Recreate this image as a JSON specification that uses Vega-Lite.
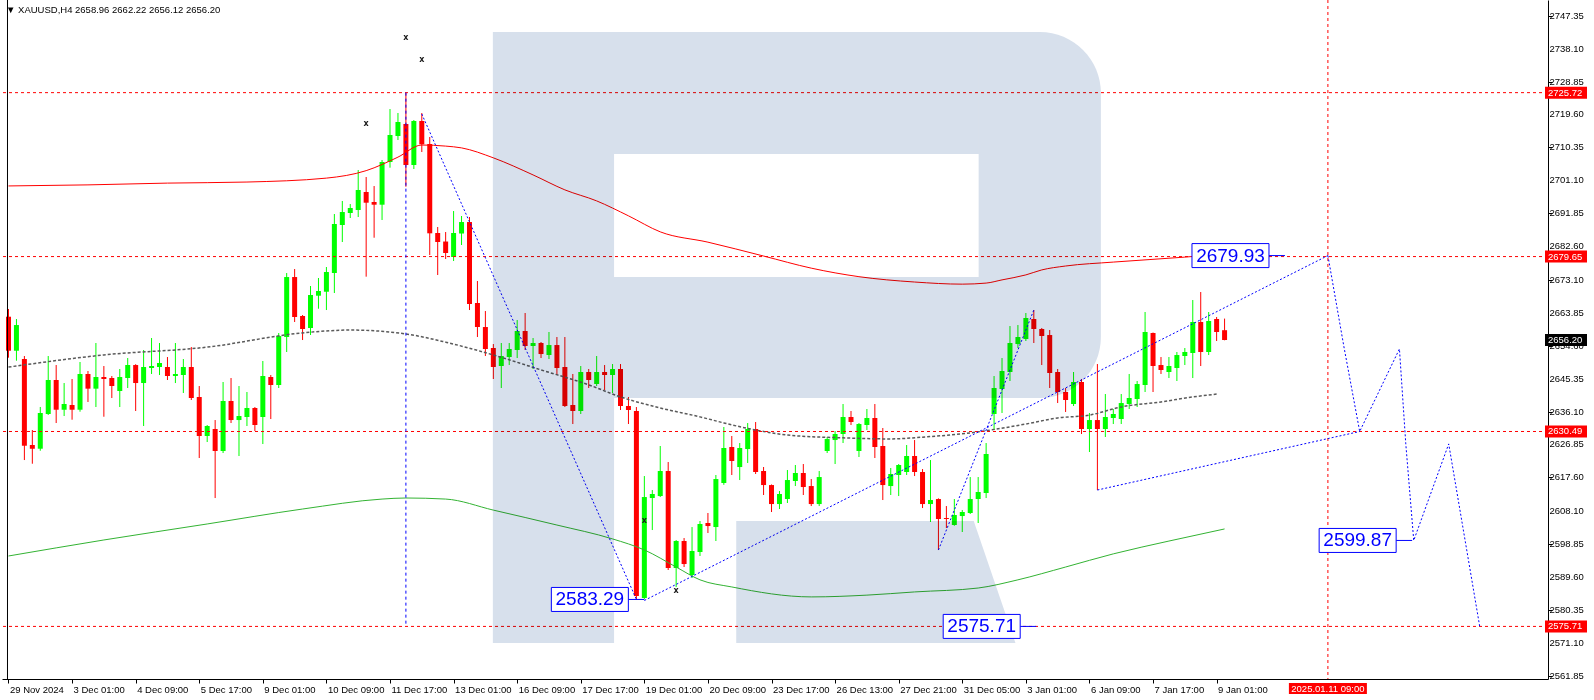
{
"$schema":"https://vega.github.io/schema/vega-lite/v6.json",
"width":1546,"height":679,"autosize":"none",
"padding":{"left":2,"top":0,"right":46,"bottom":21},
"background":"white",
"config":{"view":{"stroke":null},"font":"Liberation Sans","axis":{"labelOverlap":false,"labelFlush":false,"labelBound":false,"grid":false}},
"title":{"text":"▼ XAUUSD,H4  2658.96 2662.22 2656.12 2656.20","anchor":"start","frame":"group","offset":-15,"font":"Liberation Sans","fontSize":9.5,"fontWeight":"normal","color":"#000000","dx":4},
"datasets":{
"candles":[
{"i":0,"o":2662.75,"h":2664.91,"l":2651.23,"c":2653.19},
{"i":1,"o":2653.19,"h":2662.10,"l":2650.38,"c":2660.41},
{"i":2,"o":2650.86,"h":2651.70,"l":2622.47,"c":2626.49},
{"i":3,"o":2626.69,"h":2630.91,"l":2621.43,"c":2625.65},
{"i":4,"o":2625.65,"h":2637.38,"l":2625.08,"c":2635.69},
{"i":5,"o":2635.41,"h":2651.70,"l":2635.13,"c":2644.96},
{"i":6,"o":2644.96,"h":2649.17,"l":2632.87,"c":2636.61},
{"i":7,"o":2636.61,"h":2644.11,"l":2634.84,"c":2638.21},
{"i":8,"o":2637.93,"h":2645.24,"l":2633.80,"c":2636.61},
{"i":9,"o":2636.61,"h":2650.02,"l":2636.05,"c":2646.65},
{"i":10,"o":2646.65,"h":2647.49,"l":2638.78,"c":2642.53},
{"i":11,"o":2642.53,"h":2655.36,"l":2637.37,"c":2645.80},
{"i":12,"o":2645.80,"h":2648.89,"l":2634.64,"c":2645.24},
{"i":13,"o":2645.52,"h":2646.08,"l":2639.90,"c":2643.27},
{"i":14,"o":2641.87,"h":2648.05,"l":2637.37,"c":2645.80},
{"i":15,"o":2645.52,"h":2651.14,"l":2642.71,"c":2649.17},
{"i":16,"o":2649.17,"h":2649.40,"l":2636.25,"c":2644.11},
{"i":17,"o":2644.11,"h":2653.39,"l":2632.03,"c":2648.61},
{"i":18,"o":2648.33,"h":2656.76,"l":2646.65,"c":2648.89},
{"i":19,"o":2648.61,"h":2655.36,"l":2646.36,"c":2649.74},
{"i":20,"o":2648.61,"h":2651.42,"l":2644.96,"c":2646.08},
{"i":21,"o":2646.08,"h":2655.36,"l":2644.11,"c":2646.65},
{"i":22,"o":2646.36,"h":2650.86,"l":2641.31,"c":2648.61},
{"i":23,"o":2648.61,"h":2654.23,"l":2639.34,"c":2639.90},
{"i":24,"o":2640.18,"h":2643.27,"l":2623.04,"c":2629.22},
{"i":25,"o":2629.22,"h":2632.31,"l":2627.53,"c":2632.03},
{"i":26,"o":2631.19,"h":2633.71,"l":2611.79,"c":2625.00},
{"i":27,"o":2625.00,"h":2644.40,"l":2624.44,"c":2639.06},
{"i":28,"o":2639.06,"h":2645.52,"l":2632.87,"c":2633.71},
{"i":29,"o":2633.71,"h":2643.27,"l":2623.60,"c":2634.84},
{"i":30,"o":2634.56,"h":2641.59,"l":2632.03,"c":2637.09},
{"i":31,"o":2637.09,"h":2637.37,"l":2630.62,"c":2632.31},
{"i":32,"o":2634.56,"h":2650.30,"l":2626.97,"c":2646.08},
{"i":33,"o":2645.80,"h":2646.36,"l":2633.99,"c":2643.55},
{"i":34,"o":2643.55,"h":2658.17,"l":2642.71,"c":2657.32},
{"i":35,"o":2657.04,"h":2675.03,"l":2652.83,"c":2673.90},
{"i":36,"o":2673.90,"h":2676.15,"l":2661.26,"c":2662.66},
{"i":37,"o":2662.95,"h":2663.23,"l":2656.20,"c":2659.29},
{"i":38,"o":2659.57,"h":2671.38,"l":2657.61,"c":2668.85},
{"i":39,"o":2668.65,"h":2673.63,"l":2665.00,"c":2669.97},
{"i":40,"o":2669.77,"h":2676.72,"l":2664.63,"c":2675.31},
{"i":41,"o":2675.03,"h":2691.61,"l":2669.41,"c":2688.80},
{"i":42,"o":2688.52,"h":2695.27,"l":2683.74,"c":2692.17},
{"i":43,"o":2691.89,"h":2694.42,"l":2690.49,"c":2693.30},
{"i":44,"o":2692.74,"h":2703.98,"l":2690.77,"c":2698.36},
{"i":45,"o":2697.80,"h":2702.01,"l":2674.00,"c":2694.79},
{"i":46,"o":2694.99,"h":2699.48,"l":2684.95,"c":2694.23},
{"i":47,"o":2694.23,"h":2706.79,"l":2689.93,"c":2706.23},
{"i":48,"o":2706.23,"h":2721.12,"l":2704.63,"c":2713.82},
{"i":49,"o":2713.54,"h":2720.00,"l":2712.41,"c":2717.47},
{"i":50,"o":2716.91,"h":2725.72,"l":2699.29,"c":2705.39},
{"i":51,"o":2705.39,"h":2718.03,"l":2704.26,"c":2717.75},
{"i":52,"o":2717.75,"h":2720.00,"l":2709.04,"c":2711.20},
{"i":53,"o":2711.29,"h":2713.26,"l":2680.09,"c":2686.19},
{"i":54,"o":2686.27,"h":2687.96,"l":2674.47,"c":2683.74},
{"i":55,"o":2683.88,"h":2686.55,"l":2678.97,"c":2680.65},
{"i":56,"o":2679.53,"h":2692.45,"l":2678.40,"c":2686.27},
{"i":57,"o":2686.13,"h":2691.05,"l":2682.90,"c":2689.36},
{"i":58,"o":2689.36,"h":2690.77,"l":2664.63,"c":2666.32},
{"i":59,"o":2666.60,"h":2672.78,"l":2657.04,"c":2659.85},
{"i":60,"o":2659.85,"h":2664.35,"l":2651.70,"c":2653.67},
{"i":61,"o":2653.95,"h":2655.07,"l":2645.24,"c":2648.61},
{"i":62,"o":2648.89,"h":2655.36,"l":2642.71,"c":2651.70},
{"i":63,"o":2651.42,"h":2655.36,"l":2649.17,"c":2653.67},
{"i":64,"o":2653.39,"h":2661.82,"l":2651.14,"c":2658.73},
{"i":65,"o":2658.73,"h":2663.79,"l":2653.39,"c":2654.51},
{"i":66,"o":2654.51,"h":2656.76,"l":2648.05,"c":2655.36},
{"i":67,"o":2655.36,"h":2655.64,"l":2651.14,"c":2652.26},
{"i":68,"o":2651.98,"h":2658.45,"l":2650.86,"c":2654.79},
{"i":69,"o":2654.79,"h":2657.04,"l":2646.36,"c":2648.33},
{"i":70,"o":2648.61,"h":2657.04,"l":2637.37,"c":2637.65},
{"i":71,"o":2637.93,"h":2646.65,"l":2632.59,"c":2636.25},
{"i":72,"o":2636.25,"h":2648.89,"l":2635.41,"c":2647.21},
{"i":73,"o":2647.21,"h":2648.05,"l":2642.71,"c":2644.96},
{"i":74,"o":2643.83,"h":2651.70,"l":2643.27,"c":2647.21},
{"i":75,"o":2647.21,"h":2649.17,"l":2642.15,"c":2646.36},
{"i":76,"o":2646.36,"h":2649.45,"l":2641.31,"c":2648.05},
{"i":77,"o":2648.05,"h":2649.45,"l":2636.53,"c":2637.65},
{"i":78,"o":2637.65,"h":2640.18,"l":2632.59,"c":2636.53},
{"i":79,"o":2636.25,"h":2637.37,"l":2583.29,"c":2584.25},
{"i":80,"o":2583.69,"h":2617.97,"l":2583.41,"c":2612.07},
{"i":81,"o":2611.79,"h":2614.04,"l":2602.80,"c":2612.92},
{"i":82,"o":2612.35,"h":2626.41,"l":2612.07,"c":2619.38},
{"i":83,"o":2619.38,"h":2621.91,"l":2591.56,"c":2592.12},
{"i":84,"o":2592.12,"h":2599.99,"l":2586.78,"c":2599.71},
{"i":85,"o":2599.71,"h":2600.55,"l":2592.40,"c":2593.24},
{"i":86,"o":2590.15,"h":2603.64,"l":2589.31,"c":2596.90},
{"i":87,"o":2596.62,"h":2605.33,"l":2595.49,"c":2604.49},
{"i":88,"o":2604.77,"h":2607.58,"l":2601.96,"c":2603.92},
{"i":89,"o":2603.64,"h":2618.26,"l":2599.71,"c":2617.13},
{"i":90,"o":2616.01,"h":2631.75,"l":2615.50,"c":2625.85},
{"i":91,"o":2626.13,"h":2629.22,"l":2618.26,"c":2622.19},
{"i":92,"o":2620.50,"h":2627.25,"l":2616.85,"c":2625.85},
{"i":93,"o":2625.56,"h":2632.87,"l":2621.63,"c":2631.19},
{"i":94,"o":2631.19,"h":2633.15,"l":2618.54,"c":2619.10},
{"i":95,"o":2619.38,"h":2620.51,"l":2612.64,"c":2615.44},
{"i":96,"o":2615.44,"h":2615.60,"l":2607.86,"c":2610.10},
{"i":97,"o":2610.10,"h":2613.76,"l":2608.70,"c":2612.92},
{"i":98,"o":2611.51,"h":2619.66,"l":2610.39,"c":2616.85},
{"i":99,"o":2616.57,"h":2621.07,"l":2615.16,"c":2618.82},
{"i":100,"o":2618.82,"h":2621.35,"l":2612.64,"c":2614.88},
{"i":101,"o":2615.16,"h":2617.13,"l":2609.54,"c":2610.10},
{"i":102,"o":2610.10,"h":2619.38,"l":2609.54,"c":2617.69},
{"i":103,"o":2625.00,"h":2628.94,"l":2624.44,"c":2628.37},
{"i":104,"o":2628.09,"h":2630.62,"l":2621.35,"c":2629.78},
{"i":105,"o":2629.78,"h":2638.21,"l":2627.25,"c":2634.56},
{"i":106,"o":2634.56,"h":2636.25,"l":2632.31,"c":2633.15},
{"i":107,"o":2625.00,"h":2632.87,"l":2623.32,"c":2632.59},
{"i":108,"o":2632.31,"h":2636.81,"l":2630.90,"c":2634.28},
{"i":109,"o":2634.28,"h":2638.21,"l":2623.04,"c":2626.13},
{"i":110,"o":2626.41,"h":2631.47,"l":2611.23,"c":2615.44},
{"i":111,"o":2615.16,"h":2620.23,"l":2612.64,"c":2618.54},
{"i":112,"o":2618.26,"h":2621.35,"l":2612.35,"c":2621.07},
{"i":113,"o":2619.10,"h":2626.69,"l":2618.26,"c":2623.60},
{"i":114,"o":2623.60,"h":2628.09,"l":2617.97,"c":2619.10},
{"i":115,"o":2619.10,"h":2619.94,"l":2608.98,"c":2610.10},
{"i":116,"o":2610.10,"h":2622.47,"l":2605.05,"c":2611.23},
{"i":117,"o":2611.51,"h":2611.70,"l":2597.18,"c":2605.89},
{"i":118,"o":2606.17,"h":2609.54,"l":2603.36,"c":2605.89},
{"i":119,"o":2604.21,"h":2611.51,"l":2604.00,"c":2607.02},
{"i":120,"o":2606.73,"h":2608.42,"l":2602.24,"c":2607.86},
{"i":121,"o":2607.58,"h":2617.69,"l":2607.30,"c":2611.51},
{"i":122,"o":2611.51,"h":2617.69,"l":2604.77,"c":2613.48},
{"i":123,"o":2613.20,"h":2627.25,"l":2611.79,"c":2624.16},
{"i":124,"o":2635.41,"h":2646.08,"l":2630.90,"c":2642.71},
{"i":125,"o":2642.43,"h":2651.14,"l":2635.69,"c":2647.49},
{"i":126,"o":2647.21,"h":2660.13,"l":2644.68,"c":2655.36},
{"i":127,"o":2655.07,"h":2660.41,"l":2653.95,"c":2657.04},
{"i":128,"o":2656.48,"h":2663.79,"l":2655.92,"c":2662.38},
{"i":129,"o":2662.10,"h":2664.63,"l":2655.36,"c":2659.29},
{"i":130,"o":2659.29,"h":2659.57,"l":2649.17,"c":2657.32},
{"i":131,"o":2657.60,"h":2659.01,"l":2642.71,"c":2646.93},
{"i":132,"o":2647.21,"h":2648.05,"l":2638.49,"c":2641.59},
{"i":133,"o":2641.59,"h":2642.71,"l":2635.97,"c":2639.34},
{"i":134,"o":2638.21,"h":2647.21,"l":2637.65,"c":2644.40},
{"i":135,"o":2644.40,"h":2645.24,"l":2629.78,"c":2631.19},
{"i":136,"o":2631.19,"h":2635.69,"l":2624.72,"c":2633.71},
{"i":137,"o":2633.71,"h":2649.45,"l":2614.04,"c":2631.19},
{"i":138,"o":2631.19,"h":2641.02,"l":2628.94,"c":2634.56},
{"i":139,"o":2634.28,"h":2636.81,"l":2632.59,"c":2635.41},
{"i":140,"o":2634.00,"h":2641.02,"l":2632.59,"c":2638.49},
{"i":141,"o":2638.21,"h":2646.65,"l":2636.81,"c":2639.90},
{"i":142,"o":2639.62,"h":2644.68,"l":2637.37,"c":2643.83},
{"i":143,"o":2643.55,"h":2664.07,"l":2641.59,"c":2658.45},
{"i":144,"o":2658.17,"h":2658.30,"l":2641.59,"c":2648.89},
{"i":145,"o":2649.17,"h":2651.42,"l":2646.65,"c":2647.77},
{"i":146,"o":2647.21,"h":2651.42,"l":2645.52,"c":2648.89},
{"i":147,"o":2648.33,"h":2652.83,"l":2644.68,"c":2651.98},
{"i":148,"o":2651.70,"h":2653.95,"l":2649.17,"c":2652.83},
{"i":149,"o":2652.55,"h":2667.44,"l":2645.52,"c":2661.26},
{"i":150,"o":2661.26,"h":2669.69,"l":2648.89,"c":2652.83},
{"i":151,"o":2652.83,"h":2664.07,"l":2651.98,"c":2661.54},
{"i":152,"o":2662.10,"h":2662.66,"l":2655.92,"c":2658.45},
{"i":153,"o":2658.96,"h":2662.22,"l":2656.12,"c":2656.20}
],
"red":[{"i":0,"p":2699.5},{"i":10,"p":2699.8},{"i":20,"p":2700.3},{"i":30,"p":2700.6},{"i":40,"p":2701.7},{"i":45,"p":2703.8},{"i":49,"p":2707.6},{"i":52,"p":2711.0},{"i":55,"p":2710.7},{"i":57,"p":2710.2},{"i":61,"p":2707.4},{"i":66,"p":2702.6},{"i":70,"p":2698.4},{"i":74,"p":2695.3},{"i":78,"p":2691.1},{"i":82,"p":2686.6},{"i":88,"p":2683.7},{"i":95,"p":2679.8},{"i":101,"p":2676.4},{"i":107,"p":2674.0},{"i":114,"p":2672.5},{"i":120,"p":2671.9},{"i":123,"p":2672.2},{"i":125,"p":2673.1},{"i":128,"p":2674.5},{"i":130,"p":2675.9},{"i":133,"p":2677.0},{"i":139,"p":2678.1},{"i":148,"p":2679.5},{"i":153,"p":2680.4}],
"gray":[{"i":0,"p":2648.6},{"i":12,"p":2652.0},{"i":25,"p":2654.2},{"i":37,"p":2658.2},{"i":43,"p":2659.0},{"i":50,"p":2657.9},{"i":55,"p":2655.6},{"i":61,"p":2652.0},{"i":67,"p":2647.8},{"i":73,"p":2643.6},{"i":77,"p":2640.2},{"i":82,"p":2637.1},{"i":87,"p":2634.6},{"i":90,"p":2632.9},{"i":94,"p":2630.9},{"i":98,"p":2629.5},{"i":105,"p":2628.7},{"i":111,"p":2628.4},{"i":115,"p":2628.9},{"i":121,"p":2630.1},{"i":128,"p":2632.6},{"i":132,"p":2634.3},{"i":136,"p":2635.1},{"i":140,"p":2637.4},{"i":145,"p":2638.8},{"i":149,"p":2640.2},{"i":152,"p":2641.0}],
"green":[{"i":0,"p":2595.5},{"i":12,"p":2600.0},{"i":25,"p":2604.5},{"i":37,"p":2608.7},{"i":47,"p":2611.5},{"i":50,"p":2611.8},{"i":55,"p":2611.5},{"i":61,"p":2608.4},{"i":69,"p":2604.2},{"i":76,"p":2600.3},{"i":80,"p":2597.2},{"i":84,"p":2592.4},{"i":87,"p":2588.8},{"i":91,"p":2586.8},{"i":101,"p":2584.0},{"i":108,"p":2584.5},{"i":114,"p":2585.4},{"i":122,"p":2586.5},{"i":127,"p":2588.8},{"i":133,"p":2592.4},{"i":139,"p":2596.1},{"i":146,"p":2599.7},{"i":153,"p":2603.1}],
"levels":[{"p":2725.72},{"p":2679.65},{"p":2630.49},{"p":2575.71}],
"vlines":[{"i":166}],
"bluev":[{"i":50,"p1":2725.72,"p2":2575.71}],
"blue":[
{"s":"A","i":52,"p":2719.72},{"s":"A","i":79,"p":2583.29},
{"s":"B","i":80,"p":2583.0},{"s":"B","i":166,"p":2679.93},
{"s":"C","i":117,"p":2597.18},{"s":"C","i":129,"p":2664.63},
{"s":"D","i":137,"p":2614.04},{"s":"D","i":170,"p":2630.49},
{"s":"Z","i":166,"p":2679.93},{"s":"Z","i":168,"p":2654.5},{"s":"Z","i":170,"p":2630.49},{"s":"Z","i":175,"p":2653.7},{"s":"Z","i":175.8,"p":2627.0},{"s":"Z","i":176.8,"p":2599.87},{"s":"Z","i":181.2,"p":2627.0},{"s":"Z","i":185.1,"p":2575.71}
],
"marks":[{"i":50,"p":2741.1},{"i":52,"p":2734.9},{"i":45,"p":2716.9},{"i":80,"p":2605.3},{"i":84,"p":2585.7}],
"logo":[{"x1":60.94,"x2":76.19,"p1":2742.77,"p2":2571.04},{"x1":76.19,"x2":122.06,"p1":2742.77,"p2":2708.48},{"x1":76.19,"x2":122.06,"p1":2673.91,"p2":2639.90}],
"logoround":[{"x1":122.06,"x2":137.44,"p1":2742.77,"p2":2639.90}],
"logoleg":[{"i":91.56,"p1":2605.33,"p2":2571.04},{"i":121.44,"p1":2605.33,"p2":2571.04},{"i":126.69,"p1":2571.04,"p2":2571.04}],
"tags":[{"label":"2583.29","i":80,"p":2583.29},{"label":"2679.93","i":160.6,"p":2679.93},{"label":"2599.87","i":176.6,"p":2599.87},{"label":"2575.71","i":129.3,"p":2575.71}],
"yticks":[{"v":2747.35},{"v":2738.10},{"v":2728.85},{"v":2719.60},{"v":2710.35},{"v":2701.10},{"v":2691.85},{"v":2682.60},{"v":2673.10},{"v":2663.85},{"v":2654.60},{"v":2645.35},{"v":2636.10},{"v":2626.85},{"v":2617.60},{"v":2608.10},{"v":2598.85},{"v":2589.60},{"v":2580.35},{"v":2571.10},{"v":2561.85}],
"pricetags":[{"p":2725.72,"kind":"level"},{"p":2679.65,"kind":"level"},{"p":2630.49,"kind":"level"},{"p":2575.71,"kind":"level"},{"p":2656.20,"kind":"price"}],
"datetag":[{"i":166,"label":"2025.01.11 09:00"}]
},
"layer":[
{"data":{"name":"candles"},"mark":{"type":"rule","strokeWidth":1,"clip":true},
 "encoding":{
  "x":{"field":"i","type":"quantitative","scale":{"domain":[-0.1875,193.0625],"nice":false,"zero":false},
   "axis":{"orient":"bottom","title":null,"grid":false,"values":[0,8,16,24,32,40,48,56,64,72,80,88,96,104,112,120,128,136,144,152],
    "labelExpr":"['29 Nov 2024','3 Dec 01:00','4 Dec 09:00','5 Dec 17:00','9 Dec 01:00','10 Dec 09:00','11 Dec 17:00','13 Dec 01:00','16 Dec 09:00','17 Dec 17:00','19 Dec 01:00','20 Dec 09:00','23 Dec 17:00','26 Dec 13:00','27 Dec 21:00','31 Dec 05:00','3 Jan 01:00','6 Jan 09:00','7 Jan 17:00','9 Jan 01:00'][round(datum.value/8)]",
    "labelAlign":"left","labelOffset":1,"labelPadding":1,"labelFlush":false,"labelOverlap":false,"labelBound":false,
    "tickSize":4,"tickColor":"#000000","domainColor":"#000000","labelColor":"#000000","labelFont":"Liberation Sans","labelFontSize":9.5}},
  "y":{"field":"l","type":"quantitative","scale":{"domain":[2560.93,2751.76],"nice":false,"zero":false},
   "axis":{"orient":"right","title":null,"grid":false,"labels":false,"values":[2747.35,2738.10,2728.85,2719.60,2710.35,2701.10,2691.85,2682.60,2673.10,2663.85,2654.60,2645.35,2636.10,2626.85,2617.60,2608.10,2598.85,2589.60,2580.35,2571.10,2561.85],
    "tickSize":4,"tickColor":"#000000","domainColor":"#000000"}},
  "y2":{"field":"h"},
  "color":{"condition":{"test":"datum.c >= datum.o","value":"#00ff00"},"value":"#ff0000"}}},
{"data":{"name":"candles"},"mark":{"type":"bar","width":5,"clip":true},
 "encoding":{
  "x":{"field":"i","type":"quantitative","scale":{"domain":[-0.1875,193.0625],"nice":false,"zero":false}},
  "y":{"field":"o","type":"quantitative","scale":{"domain":[2560.93,2751.76],"nice":false,"zero":false}},
  "y2":{"field":"c"},
  "color":{"condition":{"test":"datum.c >= datum.o","value":"#00ff00"},"value":"#ff0000"}}},
{"data":{"name":"red"},"mark":{"type":"line","color":"#ff0000","strokeWidth":1,"interpolate":"monotone"},
 "encoding":{"x":{"field":"i","type":"quantitative","scale":{"domain":[-0.1875,193.0625],"nice":false,"zero":false}},"y":{"field":"p","type":"quantitative","scale":{"domain":[2560.93,2751.76],"nice":false,"zero":false}}}},
{"data":{"name":"gray"},"mark":{"type":"line","color":"#5a5a5a","strokeWidth":1.5,"strokeDash":[3,2],"interpolate":"monotone"},
 "encoding":{"x":{"field":"i","type":"quantitative","scale":{"domain":[-0.1875,193.0625],"nice":false,"zero":false}},"y":{"field":"p","type":"quantitative","scale":{"domain":[2560.93,2751.76],"nice":false,"zero":false}}}},
{"data":{"name":"green"},"mark":{"type":"line","color":"#33b333","strokeWidth":1,"interpolate":"monotone"},
 "encoding":{"x":{"field":"i","type":"quantitative","scale":{"domain":[-0.1875,193.0625],"nice":false,"zero":false}},"y":{"field":"p","type":"quantitative","scale":{"domain":[2560.93,2751.76],"nice":false,"zero":false}}}},
{"data":{"name":"levels"},"mark":{"type":"rule","color":"#ff0000","strokeWidth":1,"strokeDash":[3,3]},
 "encoding":{"y":{"field":"p","type":"quantitative","scale":{"domain":[2560.93,2751.76],"nice":false,"zero":false}}}},
{"data":{"name":"vlines"},"mark":{"type":"rule","color":"#ff0000","strokeWidth":1,"strokeDash":[3,3]},
 "encoding":{"x":{"field":"i","type":"quantitative","scale":{"domain":[-0.1875,193.0625],"nice":false,"zero":false}}}},
{"data":{"name":"bluev"},"mark":{"type":"rule","color":"#0000ff","strokeWidth":1,"strokeDash":[3,3]},
 "encoding":{"x":{"field":"i","type":"quantitative","scale":{"domain":[-0.1875,193.0625],"nice":false,"zero":false}},"y":{"field":"p1","type":"quantitative","scale":{"domain":[2560.93,2751.76],"nice":false,"zero":false}},"y2":{"field":"p2"}}},
{"data":{"name":"blue"},"mark":{"type":"line","color":"#0000ff","strokeWidth":1,"strokeDash":[2,2]},
 "encoding":{"x":{"field":"i","type":"quantitative","scale":{"domain":[-0.1875,193.0625],"nice":false,"zero":false}},"y":{"field":"p","type":"quantitative","scale":{"domain":[2560.93,2751.76],"nice":false,"zero":false}},"detail":{"field":"s"}}},
{"data":{"name":"marks"},"mark":{"type":"text","text":"x","font":"DejaVu Sans","fontWeight":"bold","fontSize":8,"color":"#1a1a1a","align":"center","baseline":"middle"},
 "encoding":{"x":{"field":"i","type":"quantitative","scale":{"domain":[-0.1875,193.0625],"nice":false,"zero":false}},"y":{"field":"p","type":"quantitative","scale":{"domain":[2560.93,2751.76],"nice":false,"zero":false}}}},
{"data":{"name":"logo"},"mark":{"type":"rect","color":"#d7e0ec","blend":"multiply"},
 "encoding":{"x":{"field":"x1","type":"quantitative","scale":{"domain":[-0.1875,193.0625],"nice":false,"zero":false}},"x2":{"field":"x2"},"y":{"field":"p1","type":"quantitative","scale":{"domain":[2560.93,2751.76],"nice":false,"zero":false}},"y2":{"field":"p2"}}},
{"data":{"name":"logoround"},"mark":{"type":"rect","color":"#d7e0ec","blend":"multiply","cornerRadiusTopRight":122,"cornerRadiusBottomRight":122},
 "encoding":{"x":{"field":"x1","type":"quantitative","scale":{"domain":[-0.1875,193.0625],"nice":false,"zero":false}},"x2":{"field":"x2"},"y":{"field":"p1","type":"quantitative","scale":{"domain":[2560.93,2751.76],"nice":false,"zero":false}},"y2":{"field":"p2"}}},
{"data":{"name":"logoleg"},"mark":{"type":"area","color":"#d7e0ec","blend":"multiply","opacity":1,"fillOpacity":1,"interpolate":"linear"},
 "encoding":{"x":{"field":"i","type":"quantitative","scale":{"domain":[-0.1875,193.0625],"nice":false,"zero":false}},"y":{"field":"p1","type":"quantitative","scale":{"domain":[2560.93,2751.76],"nice":false,"zero":false}},"y2":{"field":"p2"}}},
{"data":{"name":"tags"},"mark":{"type":"rule","color":"#0000ff","strokeWidth":1,"xOffset":-16,"x2Offset":0},
 "encoding":{"x":{"field":"i","type":"quantitative","scale":{"domain":[-0.1875,193.0625],"nice":false,"zero":false}},"x2":{"field":"i"},"y":{"field":"p","type":"quantitative","scale":{"domain":[2560.93,2751.76],"nice":false,"zero":false}}}},
{"data":{"name":"tags"},"mark":{"type":"rect","fill":"#ffffff","stroke":"#0000ff","strokeWidth":1,"xOffset":-93,"x2Offset":-16,"yOffset":-12,"y2Offset":12},
 "encoding":{"x":{"field":"i","type":"quantitative","scale":{"domain":[-0.1875,193.0625],"nice":false,"zero":false}},"x2":{"field":"i"},"y":{"field":"p","type":"quantitative","scale":{"domain":[2560.93,2751.76],"nice":false,"zero":false}},"y2":{"field":"p"}}},
{"data":{"name":"tags"},"mark":{"type":"text","color":"#0000ff","font":"Liberation Sans","fontSize":19,"dx":-54.5,"align":"center","baseline":"middle"},
 "encoding":{"x":{"field":"i","type":"quantitative","scale":{"domain":[-0.1875,193.0625],"nice":false,"zero":false}},"y":{"field":"p","type":"quantitative","scale":{"domain":[2560.93,2751.76],"nice":false,"zero":false}},"text":{"field":"label"}}},
{"data":{"name":"yticks"},"mark":{"type":"text","color":"#000000","font":"Liberation Sans","fontSize":9.5,"dx":6.5,"align":"left","baseline":"middle"},
 "encoding":{"x":{"datum":193.0625,"type":"quantitative","scale":{"domain":[-0.1875,193.0625],"nice":false,"zero":false}},"y":{"field":"v","type":"quantitative","scale":{"domain":[2560.93,2751.76],"nice":false,"zero":false}},"text":{"field":"v","type":"quantitative","format":".2f"}}},
{"data":{"name":"pricetags"},"mark":{"type":"rect","xOffset":2,"x2Offset":44,"yOffset":-6,"y2Offset":6},
 "encoding":{"x":{"datum":193.0625,"type":"quantitative","scale":{"domain":[-0.1875,193.0625],"nice":false,"zero":false}},"x2":{"datum":193.0625},"y":{"field":"p","type":"quantitative","scale":{"domain":[2560.93,2751.76],"nice":false,"zero":false}},"y2":{"field":"p"},
  "color":{"condition":{"test":"datum.kind == 'price'","value":"#000000"},"value":"#ff0000"}}},
{"data":{"name":"pricetags"},"mark":{"type":"text","color":"#ffffff","font":"Liberation Sans","fontSize":9.5,"dx":5,"align":"left","baseline":"middle"},
 "encoding":{"x":{"datum":193.0625,"type":"quantitative","scale":{"domain":[-0.1875,193.0625],"nice":false,"zero":false}},"y":{"field":"p","type":"quantitative","scale":{"domain":[2560.93,2751.76],"nice":false,"zero":false}},"text":{"field":"p","type":"quantitative","format":".2f"}}},
{"data":{"name":"datetag"},"mark":{"type":"rect","color":"#ff0000","xOffset":-39,"x2Offset":39,"yOffset":4,"y2Offset":15},
 "encoding":{"x":{"field":"i","type":"quantitative","scale":{"domain":[-0.1875,193.0625],"nice":false,"zero":false}},"x2":{"field":"i"},"y":{"datum":2560.93,"type":"quantitative","scale":{"domain":[2560.93,2751.76],"nice":false,"zero":false}},"y2":{"datum":2560.93}}},
{"data":{"name":"datetag"},"mark":{"type":"text","color":"#ffffff","font":"Liberation Sans","fontSize":9.5,"dy":9.5,"align":"center","baseline":"middle"},
 "encoding":{"x":{"field":"i","type":"quantitative","scale":{"domain":[-0.1875,193.0625],"nice":false,"zero":false}},"y":{"datum":2560.93,"type":"quantitative","scale":{"domain":[2560.93,2751.76],"nice":false,"zero":false}},"text":{"field":"label"}}},
{"data":{"values":[{"i":-0.125}]},"mark":{"type":"rule","color":"#000000","strokeWidth":1},
 "encoding":{"x":{"field":"i","type":"quantitative","scale":{"domain":[-0.1875,193.0625],"nice":false,"zero":false}}}}
]
}
